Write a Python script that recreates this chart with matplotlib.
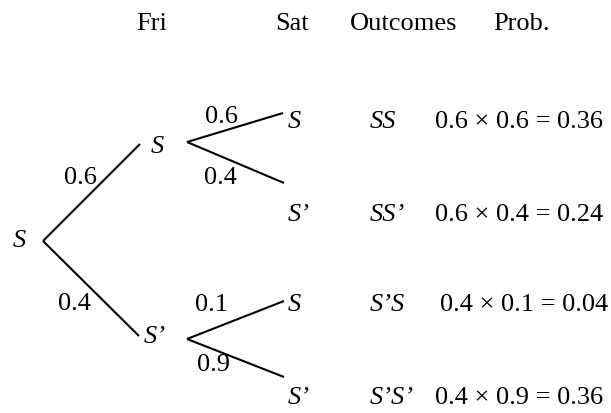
import matplotlib
matplotlib.use("Agg")
import matplotlib.pyplot as plt

# ---- data ----
headers = ["Fri", "Sat", "Outcomes", "Prob."]
root_label = "S"
fri_labels = ["S", "S\u2019"]
fri_probs = [0.6, 0.4]
sat_labels = ["S", "S\u2019", "S", "S\u2019"]
sat_probs = [0.6, 0.4, 0.1, 0.9]
outcomes = ["SS", "SS\u2019", "S\u2019S", "S\u2019S\u2019"]

plt.rcParams['font.family'] = ['Liberation Serif', 'DejaVu Serif']
FS = 19

fig = plt.figure(figsize=(6.11, 4.13), dpi=100)
ax = fig.add_axes([0, 0, 1, 1])
ax.set_xlim(0, 611)
ax.set_ylim(413, 0)
ax.axis('off')

lw = 1.5
col = 'black'

# headers
hx = [152, 292, 404, 521]
for x, h in zip(hx, headers):
    ax.text(x, 30, h, ha='center', va='baseline', fontsize=FS)

# root
ax.text(19, 241, root_label, ha='center', va='center', fontsize=FS, style='italic')
root_v = (43, 241)

# first level
fri_end = [(140, 144), (139, 336)]
fri_text = [(151, 147), (144, 337)]
fri_plab = [(80, 178), (74, 304)]
for i in range(2):
    ax.plot([root_v[0], fri_end[i][0]], [root_v[1], fri_end[i][1]], color=col, lw=lw,
            solid_capstyle='butt')
    ax.text(fri_text[i][0], fri_text[i][1], fri_labels[i], ha='left', va='center',
            fontsize=FS, style='italic')
    ax.text(fri_plab[i][0], fri_plab[i][1], f"{fri_probs[i]:g}", ha='center', va='center',
            fontsize=FS)

# second level
vtx = [(187, 142), (187, 142), (187, 339), (187, 339)]
ends = [(283, 113), (284, 183), (284, 301), (284, 377)]
plab = [(221, 117), (220, 178), (212, 305), (213, 365)]
row_y = [122, 215, 305, 398]
for j in range(4):
    ax.plot([vtx[j][0], ends[j][0]], [vtx[j][1], ends[j][1]], color=col, lw=lw,
            solid_capstyle='butt')
    ax.text(plab[j][0], plab[j][1], f"{sat_probs[j]:g}", ha='center', va='center', fontsize=FS)
    ax.text(288, row_y[j], sat_labels[j], ha='left', va='center', fontsize=FS, style='italic')
    ax.text(370, row_y[j], outcomes[j], ha='left', va='center', fontsize=FS, style='italic')
    p1 = fri_probs[j // 2]
    p2 = sat_probs[j]
    ax.text(435 if j != 2 else 440, row_y[j],
            f"{p1:g} \u00d7 {p2:g} = {p1 * p2:.2f}", ha='left', va='center', fontsize=FS)

fig.savefig("out.png", dpi=100)
